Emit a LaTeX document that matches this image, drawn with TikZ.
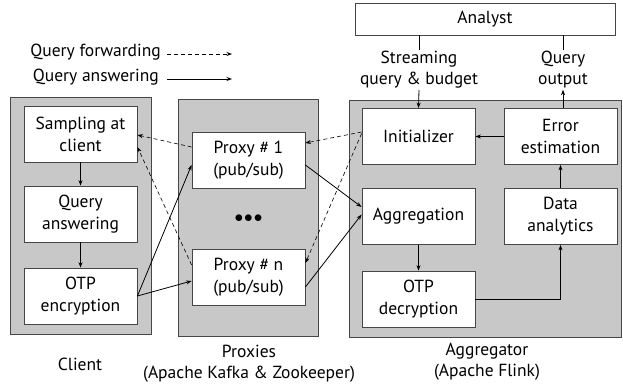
\documentclass[tikz,border=0pt]{standalone}
\usepackage{fontspec}
\setmainfont{PT Sans}
\usepackage{tikz}
\usetikzlibrary{arrows.meta}
\definecolor{panelgray}{RGB}{200, 200, 201}
\definecolor{edgegray}{RGB}{70, 70, 70}

\begin{document}
\begin{tikzpicture}[x = 1pt, y = -1pt, >={Stealth[length=5.5pt, width=4pt]},
  panel/.style = {draw = edgegray, fill = panelgray, line width = 0.8pt, minimum width = #1, minimum height = 237pt, inner sep = 0pt},
  block/.style = {draw = edgegray, fill = white, line width = 0.8pt, minimum width = 113pt, minimum height = 56pt, align = center, inner sep = 0pt, font = \fontsize{17.5}{22}\selectfont},
  lbl/.style = {align = center, inner sep = 1pt, font = \fontsize{17.5}{21}\selectfont},
  fwd/.style = {->, dashed, dash pattern = on 4pt off 3pt, line width = 0.6pt},
  ans/.style = {->, line width = 0.8pt}]
\useasboundingbox (0,0) rectangle (623,383);

% legend
\node[lbl, anchor = east] (legfwd) at (162,52) {Query forwarding};
\node[lbl, anchor = east] (legans) at (160,77) {Query answering};
\coordinate (fwdend) at (232,54);
\coordinate (ansend) at (232,79);
\draw[fwd] (legfwd.east |- fwdend) ++(5,0) -- (fwdend);
\draw[ans] (legans.east |- ansend) ++(7,0) -- (ansend);

% panels
\node[panel = 141pt] (client) at (80.5,215.5) {};
\node[panel = 140pt] (proxies) at (248,217.5) {};
\node[panel = 272pt] (aggr) at (485,218.5) {};

% client side
\node[block] (sampling) at (80.5,134) {Sampling at\\client};
\node[block] (answering) at (80.5,214) {Query\\answering};
\node[block] (otpenc) at (80.5,296) {OTP\\encryption};

% proxies
\node[block] (proxy1) at (248.5,160) {Proxy \# 1\\(pub/sub)};
\node[block] (proxyn) at (248.5,277) {Proxy \# n\\(pub/sub)};
\node[font = \LARGE] (dots) at (248.5,219) {$\bullet\!\bullet\!\bullet$};

% aggregator
\node[block] (init) at (418.5,136.5) {Initializer};
\node[block] (errest) at (560.5,136.5) {Error\\estimation};
\node[block] (aggregation) at (418.5,216.5) {Aggregation};
\node[block] (analytics) at (560.5,216.5) {Data\\analytics};
\node[block] (otpdec) at (418.5,299) {OTP\\decryption};

% analyst
\node[block, minimum width = 260pt, minimum height = 32pt] (analyst) at (485,19) {Analyst};
\node[lbl] (streaming) at (419,70) {Streaming\\query \& budget};
\node[lbl] (qoutput) at (563,70) {Query\\output};

\draw[line width = 0.8pt] (analyst.south -| streaming) -- (streaming.north);
\draw[ans] (streaming.south) -- (init.north);
\draw[ans] (errest.north -| qoutput) -- (qoutput.south);
\draw[line width = 0.8pt] (qoutput.north) -- (analyst.south -| qoutput);

% inside client
\draw[ans] (sampling) -- (answering);
\draw[ans] (answering) -- (otpenc);

% inside aggregator
\draw[ans] (errest) -- (init);
\draw[ans] (analytics) -- (errest);
\draw[ans] (aggregation) -- (otpdec);
\draw[ans] (otpdec.east) -- (otpdec.east -| analytics) -- (analytics.south);

% answering path
\draw[ans] (otpenc.east) -- ([yshift=-5pt]proxy1.west);
\draw[ans] (otpenc.east) -- ([yshift=-4pt]proxyn.west);
\draw[ans] ([yshift=-5pt]proxy1.east) -- ([yshift=9.5pt]aggregation.west);
\draw[ans] ([yshift=-10pt]proxyn.east) -- ([yshift=2pt]aggregation.west);

% forwarding path
\draw[fwd] ([yshift=4.5pt]init.west) -- ([yshift=17pt]proxy1.east);
\draw[fwd] ([yshift=3pt]init.west) -- ([yshift=14pt]proxyn.east);
\draw[fwd] ([yshift=13pt]proxy1.west) -- ([yshift=-1pt]sampling.east);
\draw[fwd] ([yshift=12pt]proxyn.west) -- ([yshift=-13pt]sampling.east);

% captions
\node[lbl] (clientlbl) at (80,364) {Client};
\node[lbl] (proxylbl) at (249,364) {Proxies\\(Apache Kafka \& Zookeeper)};
\node[lbl] (aggrlbl) at (487,362) {Aggregator\\(Apache Flink)};
\end{tikzpicture}
\end{document}
